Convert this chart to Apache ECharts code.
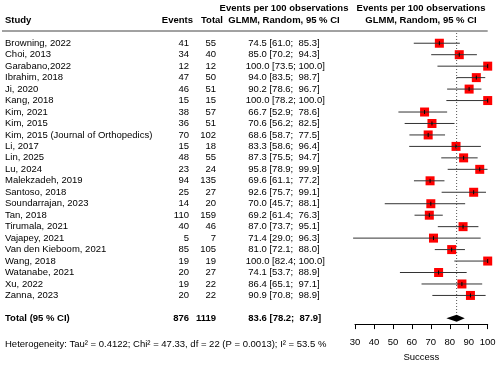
<!DOCTYPE html>
<html>
<head>
<meta charset="utf-8">
<script src="https://cdn.jsdelivr.net/npm/echarts@6/dist/echarts.min.js"></script>
<style>html,body{margin:0;padding:0;background:#fff;}#c{width:500px;height:367px;}</style>
</head>
<body>
<div id="c"></div>
<script>
const studies = ["Browning, 2022","Choi, 2013","Garabano,2022","Ibrahim, 2018","Ji, 2020","Kang, 2018","Kim, 2021","Kim, 2015","Kim, 2015 (Journal of Orthopedics)","Li, 2017","Lin, 2025","Lu, 2024","Malekzadeh, 2019","Santoso, 2018","Soundarrajan, 2023","Tan, 2018","Tirumala, 2021","Vajapey, 2021","Van den Kieboom, 2021","Wang, 2018","Watanabe, 2021","Xu, 2022","Zanna, 2023"];
const events = [41,34,12,47,46,15,38,36,70,15,48,23,94,25,14,110,40,5,85,19,20,19,20];
const totals = [55,40,12,50,51,15,57,51,102,18,55,24,135,27,20,159,46,7,105,19,27,22,22];
const est = [74.5,85.0,100.0,94.0,90.2,100.0,66.7,70.6,68.6,83.3,87.3,95.8,69.6,92.6,70.0,69.2,87.0,71.4,81.0,100.0,74.1,86.4,90.9];
const lower = [61.0,70.2,73.5,83.5,78.6,78.2,52.9,56.2,58.7,58.6,75.5,78.9,61.1,75.7,45.7,61.4,73.7,29.0,72.1,82.4,53.7,65.1,70.8];
const upper = [85.3,94.3,100.0,98.7,96.7,100.0,78.6,82.5,77.5,96.4,94.7,99.9,77.2,99.1,88.1,76.3,95.1,96.3,88.0,100.0,88.9,97.1,98.9];
const totalLabel = "Total (95 % CI)";
const totalEvents = 876;
const totalN = 1119;
const pooled = [83.6, 78.2, 87.9];
const xTicks = [30,40,50,60,70,80,90,100];
const heterogeneity = "Heterogeneity: Tau² = 0.4122; Chi² = 47.33, df = 22 (P = 0.0013); I² = 53.5 %";

const FONT = "'Liberation Sans', Arial, sans-serif";
const FS = 9.5;
const rows = studies.concat([" ", totalLabel]);
const totalIdx = rows.length - 1;

function fmt(v){ const s = v.toFixed(1); return (v < 100 ? " " : "") + s; }
function ciText(e,l,u){ return fmt(e) + " [" + l.toFixed(1) + "; " + fmt(u) + "]"; }

function txt(x, y, text, align, bold){
  return {type:'text', style:{x:x, y:y, text:text, fill:'#000', fontSize:FS, fontFamily:FONT,
    fontWeight: bold ? 'bold' : 'normal', align:align, verticalAlign:'middle'}};
}
function hdr(x, y, text, align){
  return {type:'text', x:x, y:y, style:{text:text, fontSize:FS, fontWeight:'bold', fontFamily:FONT, fill:'#000', align:align, verticalAlign:'middle'}};
}

const chart = echarts.init(document.getElementById('c'), null, {renderer:'canvas'});
const option = {
  animation:false,
  backgroundColor:'#fff',
  grid:{left:355, right:12.3, top:37.5, bottom:39.2},
  xAxis:{type:'value', min:30, max:100, interval:10,
    axisLine:{show:true, lineStyle:{color:'#000', width:1}},
    axisTick:{show:true, length:5, lineStyle:{color:'#000'}},
    splitLine:{show:false},
    axisLabel:{fontSize:FS, fontFamily:FONT, color:'#000', margin:13,
      formatter:function(v){ return xTicks.indexOf(v) >= 0 ? String(v) : ''; }},
    name:'Success', nameLocation:'middle', nameGap:24,
    nameTextStyle:{fontSize:FS, fontFamily:FONT, color:'#000'}},
  yAxis:{type:'category', data:rows, inverse:true, show:false},
  graphic:[
    hdr(5, 20, 'Study', 'left'),
    hdr(193, 20, 'Events', 'right'),
    hdr(223, 20, 'Total', 'right'),
    hdr(284, 8, 'Events per 100 observations', 'center'),
    hdr(284, 20, 'GLMM, Random, 95 % CI', 'center'),
    hdr(421, 8, 'Events per 100 observations', 'center'),
    hdr(421, 20, 'GLMM, Random, 95 % CI', 'center'),
    {type:'line', shape:{x1:2, y1:31, x2:487.7, y2:31}, style:{stroke:'#444', lineWidth:1}},
    {type:'text', x:5, y:344, style:{text:heterogeneity, fontSize:FS, fontFamily:FONT, fill:'#000', align:'left', verticalAlign:'middle'}}
  ],
  series:[
    {
      type:'custom', clip:false,
      data: studies.map(function(s,i){ return [est[i], i]; }),
      renderItem:function(params, api){
        const i = api.value(1);
        const c = api.coord([est[i], i]);
        const y = c[1];
        const xl = api.coord([lower[i], i])[0];
        const xu = api.coord([upper[i], i])[0];
        const sz = 9;
        return {type:'group', children:[
          txt(5, y, studies[i], 'left', false),
          txt(189, y, String(events[i]), 'right', false),
          txt(216, y, String(totals[i]), 'right', false),
          txt(245.7, y, ciText(est[i], lower[i], upper[i]), 'left', false),
          {type:'rect', shape:{x:c[0]-sz/2, y:y-sz/2, width:sz, height:sz}, style:{fill:'#ff0000'}},
          {type:'line', shape:{x1:xl, y1:y, x2:xu, y2:y}, style:{stroke:'#333', lineWidth:1}},
          {type:'line', shape:{x1:c[0], y1:y-2, x2:c[0], y2:y+2}, style:{stroke:'#000', lineWidth:1}}
        ]};
      }
    },
    {
      type:'custom', clip:false,
      data:[[pooled[0], totalIdx]],
      renderItem:function(params, api){
        const c = api.coord([pooled[0], totalIdx]);
        const y = c[1];
        const xl = api.coord([pooled[1], totalIdx])[0];
        const xu = api.coord([pooled[2], totalIdx])[0];
        const top = params.coordSys.y - 4.5;
        return {type:'group', children:[
          {type:'line', shape:{x1:c[0], y1:top, x2:c[0], y2:y-3.5}, style:{stroke:'#555', lineWidth:1, lineDash:[1,2]}},
          {type:'polygon', shape:{points:[[xl,y],[c[0],y-3.5],[xu,y],[c[0],y+3.5]]}, style:{fill:'#000'}},
          txt(5, y, totalLabel, 'left', true),
          txt(189, y, String(totalEvents), 'right', true),
          txt(216, y, String(totalN), 'right', true),
          txt(245.7, y, ciText(pooled[0], pooled[1], pooled[2]), 'left', true)
        ]};
      }
    }
  ]
};
chart.setOption(option);
</script>
</body>
</html>
